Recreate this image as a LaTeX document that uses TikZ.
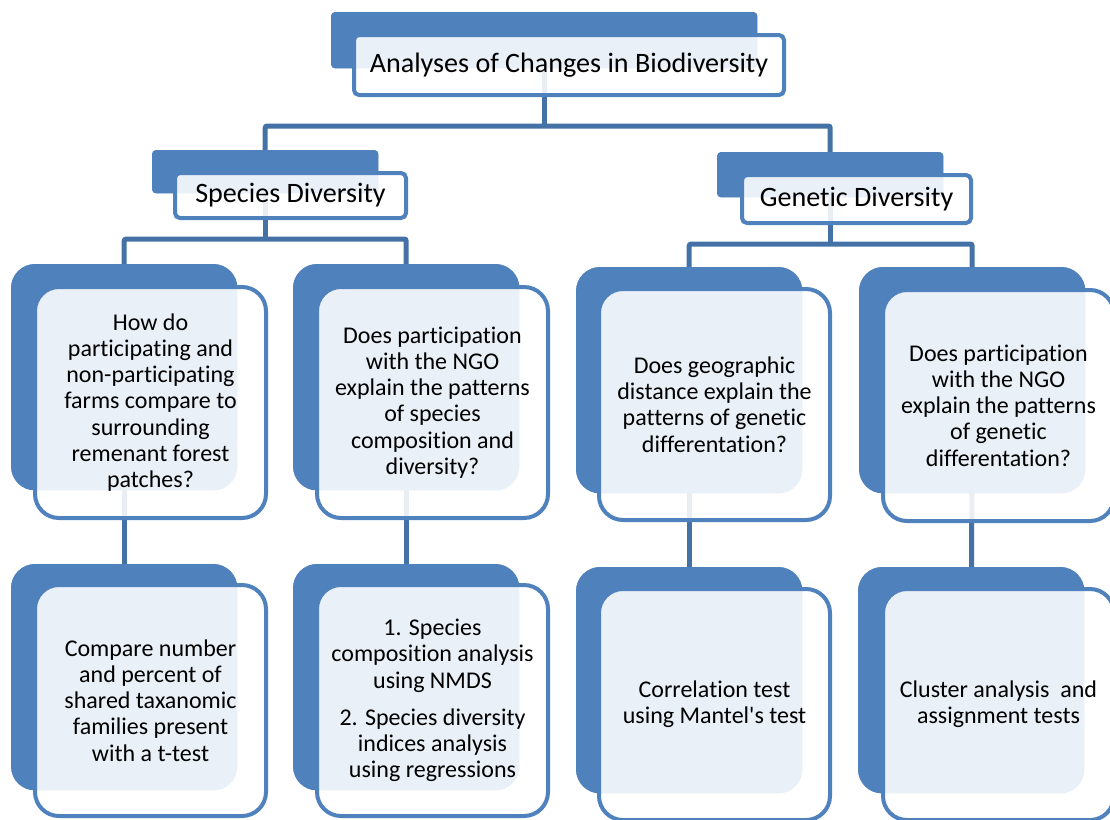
\documentclass[tikz,border=0pt]{standalone}
\usepackage{fontspec}
\setmainfont{Carlito}
\newfontfamily\calfont{Carlito}[Ligatures=NoCommon]
\definecolor{boxblue}{RGB}{79,129,189}
\definecolor{connblue}{RGB}{68,114,166}
\tikzset{
  back/.style={anchor=north west, fill=boxblue, draw=none, inner sep=0pt, minimum width=226pt, minimum height=226pt, rounded corners=24pt},
  front/.style={anchor=north west, draw=boxblue, line width=4pt, fill=white, fill opacity=0.885, text opacity=1, inner sep=0pt, minimum width=231pt, minimum height=231pt, rounded corners=24pt, align=center, font=\calfont\fontsize{24}{26.2}\selectfont},
  hback/.style={anchor=north west, fill=boxblue, draw=none, inner sep=0pt, minimum width=226pt, minimum height=43pt, rounded corners=4pt},
  hfront/.style={anchor=north west, draw=boxblue, line width=4pt, fill=white, fill opacity=0.885, text opacity=1, inner sep=0pt, minimum width=231pt, minimum height=45pt, rounded corners=5pt, align=center, font=\calfont\fontsize{28.1}{30}\selectfont},
  conn/.style={draw=connblue, line width=5pt, rounded corners=2pt}
}
\begin{document}
\begin{tikzpicture}[x=1pt,y=-1pt]
\useasboundingbox (0,0) rectangle (1110,819);
% coordinates for horizontal bars
\coordinate (h1) at (0,126);
\coordinate (h2) at (0,239);
\coordinate (h3) at (0,244);
% back rectangles (positions)
\node[hback, minimum width=426pt, minimum height=56pt] (tb) at (331,12) {};
\node[hback] (sb) at (152,150) {};
\node[hback, minimum height=45pt] (gb) at (717,152) {};
\node[back] (q1b) at (11,264) {};
\node[back] (q2b) at (293,264) {};
\node[back] (q3b) at (576,267) {};
\node[back] (q4b) at (859,267) {};
\node[back] (a1b) at (11,564) {};
\node[back] (a2b) at (293,564) {};
\node[back] (a3b) at (576,567) {};
\node[back] (a4b) at (858,567) {};
% connectors
\draw[conn] (tb.center) -- (tb.center |- h1);
\draw[conn] (sb.center) |- (h1 -| gb.center) -- (gb.center);
\draw[conn] (sb.center) -- (sb.center |- h2);
\draw[conn] (q1b.center) |- (h2 -| q2b.center) -- (q2b.center);
\draw[conn] (gb.center) -- (gb.center |- h3);
\draw[conn] (q3b.center) |- (h3 -| q4b.center) -- (q4b.center);
\draw[conn] (q1b.center) -- (a1b.center);
\draw[conn] (q2b.center) -- (a2b.center);
\draw[conn] (q3b.center) -- (a3b.center);
\draw[conn] (q4b.center) -- (a4b.center);
% redraw back rectangles over connectors
\fill[boxblue, rounded corners=4pt] (tb.north west) rectangle (tb.south east);
\fill[boxblue, rounded corners=4pt] (sb.north west) rectangle (sb.south east);
\fill[boxblue, rounded corners=4pt] (gb.north west) rectangle (gb.south east);
\foreach \b in {q1b,q2b,q3b,q4b,a1b,a2b,a3b,a4b}{
  \fill[boxblue, rounded corners=24pt] (\b.north west) rectangle (\b.south east);
}
% front boxes
\node[hfront, minimum width=430pt, minimum height=60pt] (t) at (352,33) {Analyses of Changes in Biodiversity};
\node[hfront] (s) at (173,171) {Species Diversity};
\node[hfront, minimum width=229pt, minimum height=48pt] (g) at (740,173) {Genetic Diversity};
\node[front] (q1) at (33,285) {How do\\participating and\\non-participating\\farms compare to\\surrounding\\remenant forest\\patches?};
\node[front] (q2) at (315,285) {Does participation\\with the NGO\\explain the patterns\\of species\\composition and\\diversity?};
\node[front] (q3) at (597,287) {Does geographic\\distance explain the\\patterns of genetic\\differentation?};
\node[front] (q4) at (881,288) {Does participation\\with the NGO\\explain the patterns\\of genetic\\differentation?};
\node[front] (a1) at (33,583) {Compare number\\and percent of\\shared taxanomic\\families present\\with a t-test};
\node[front] (a2) at (315,583) {1. Species\\composition analysis\\using NMDS\\[11pt]2. Species diversity\\indices analysis\\using regressions};
\node[front] (a3) at (597,587) {Correlation test\\using Mantel's test};
\node[front] (a4) at (881,587) {Cluster analysis\ \ and\\assignment tests};
\end{tikzpicture}
\end{document}
